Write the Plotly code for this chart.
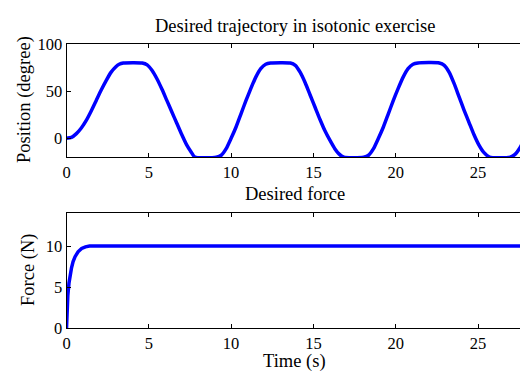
import plotly.graph_objects as go

# Desired trajectory (position, degree) vs time (s)
pos_t = [0, 0.3, 0.6, 0.9, 1.2, 1.5, 1.8, 2.1, 2.4, 2.7, 3.0, 3.2, 3.45,
         4.6, 4.9, 5.2, 5.5, 5.8, 6.1, 6.4, 6.7, 7.0, 7.3, 7.55, 7.8,
         9.1, 9.4, 9.7, 10.0, 10.3, 10.6, 10.9, 11.2, 11.5, 11.8, 12.1, 12.4,
         13.6, 13.9, 14.2, 14.5, 14.8, 15.1, 15.4, 15.7, 16.0, 16.3, 16.55, 16.85,
         18.05, 18.35, 18.65, 18.95, 19.25, 19.55, 19.85, 20.15, 20.45, 20.75, 21.05, 21.35,
         22.65, 22.95, 23.25, 23.55, 23.85, 24.15, 24.45, 24.75, 25.05, 25.35, 25.7,
         26.95, 27.25, 27.55, 27.8]
pos_v = [0, 1, 5, 11, 19, 29, 40, 51, 61, 70, 76, 78.7, 80,
         80, 78, 72, 63, 52, 40, 28, 16, 4, -7, -14, -20,
         -20, -18, -11, 0, 12, 26, 40, 53, 65, 74, 78.7, 80,
         80, 77.5, 70, 59, 46, 33, 20, 8, -2, -11, -16.5, -20,
         -20, -18, -11, 0, 12, 26, 40, 53, 65, 74, 78.7, 80,
         80, 77.5, 70, 58, 44, 30, 17, 4, -7, -15, -20,
         -20, -17, -10, -1]

# Desired force (N) vs time (s)
force_t = [0, 0.03, 0.08, 0.15, 0.22, 0.3, 0.4, 0.52, 0.7, 0.92, 1.15, 1.4, 28]
force_v = [0, 2.5, 4.0, 5.5, 6.5, 7.3, 8.1, 8.7, 9.3, 9.7, 9.9, 10, 10]

x_ticks = [0, 5, 10, 15, 20, 25]
pos_ticks = [0, 50, 100]
force_ticks = [0, 5, 10]

W, H = 520, 378
FONT = "Liberation Serif, Times New Roman, serif"
BLUE = "#0000FF"

fig = go.Figure()
fig.add_trace(go.Scatter(x=pos_t, y=pos_v, mode="lines",
                         line=dict(color=BLUE, width=3.5, shape="spline", smoothing=0.6),
                         xaxis="x", yaxis="y", showlegend=False, hoverinfo="skip"))
fig.add_trace(go.Scatter(x=force_t, y=force_v, mode="lines",
                         line=dict(color=BLUE, width=3.5),
                         xaxis="x2", yaxis="y2", showlegend=False, hoverinfo="skip"))

x0 = 63 / W


def axis_style():
    return dict(showgrid=False, zeroline=False, showline=True, linecolor="black",
                linewidth=1, ticks="inside", ticklen=4, tickcolor="black",
                tickfont=dict(family=FONT, size=16.5, color="black"))


fig.update_layout(
    width=W, height=H, margin=dict(l=0, r=0, t=0, b=0),
    paper_bgcolor="white", plot_bgcolor="white",
    font=dict(family=FONT, size=16.5, color="black"),
    xaxis=dict(domain=[x0, 1], range=[0, 27.55], tickvals=x_ticks, mirror="ticks",
               anchor="y", **axis_style()),
    yaxis=dict(domain=[222 / H, 341 / H], range=[-20, 100], tickvals=pos_ticks,
               anchor="x", **axis_style()),
    xaxis2=dict(domain=[x0, 1], range=[0, 27.55], tickvals=x_ticks, mirror="ticks",
                anchor="y2", **axis_style()),
    yaxis2=dict(domain=[42 / H, 163 / H], range=[0, 14], tickvals=force_ticks,
                anchor="x2", **axis_style()),
)

lab = dict(family=FONT, size=18.5, color="black")
cx = 293 / W
fig.add_annotation(text="Desired trajectory in isotonic exercise", x=cx, y=1 - 18 / H,
                   xref="paper", yref="paper", showarrow=False, font=lab,
                   xanchor="center", yanchor="middle")
fig.add_annotation(text="Desired force", x=cx, y=1 - 195 / H,
                   xref="paper", yref="paper", showarrow=False, font=lab,
                   xanchor="center", yanchor="middle")
fig.add_annotation(text="Time (s)", x=cx, y=1 - 371 / H,
                   xref="paper", yref="paper", showarrow=False, font=lab,
                   xanchor="center", yanchor="middle")
fig.add_annotation(text="Position (degree)", x=20 / W, y=1 - 95 / H, textangle=-90,
                   xref="paper", yref="paper", showarrow=False, font=lab,
                   xanchor="center", yanchor="middle")
fig.add_annotation(text="Force (N)", x=24 / W, y=1 - 275 / H, textangle=-90,
                   xref="paper", yref="paper", showarrow=False, font=lab,
                   xanchor="center", yanchor="middle")

fig.write_html("out.html")
